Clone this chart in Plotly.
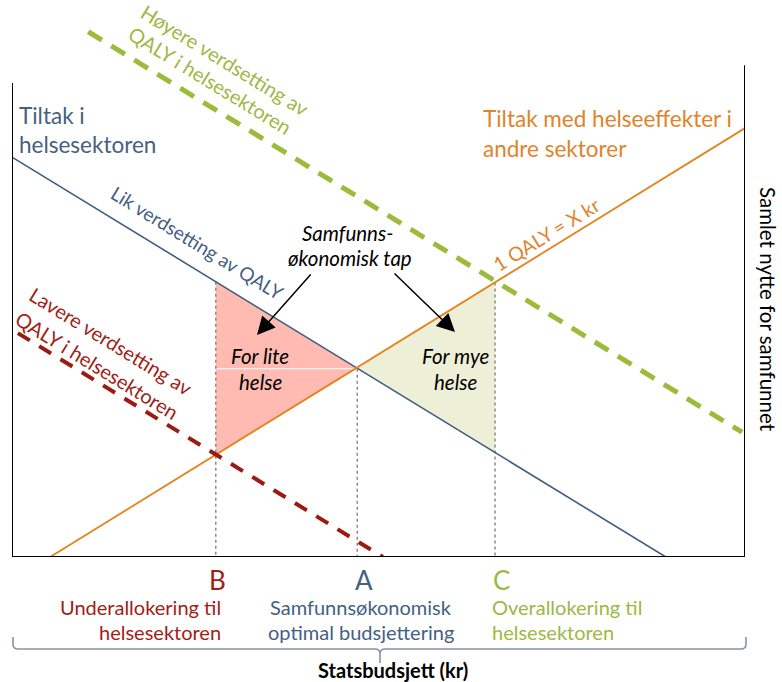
import plotly.graph_objects as go

W, H = 782, 682
ML, MR, MT, MB = 12, 37, 0, 125
PW, PH = W - ML - MR, H - MT - MB

# ---- data (budget 0-100 on x, total utility 0-100 on y) ----
health_x = [0.0, 89.2]        # Tiltak i helsesektoren
health_y = [71.8, 0.0]
other_x = [5.2, 100.0]        # Tiltak med helseeffekter i andre sektorer
other_y = [0.0, 77.0]
high_x = [10.4, 99.6]         # Høyere verdsetting av QALY i helsesektoren
high_y = [94.3, 22.4]
low_x = [0.8, 50.6]           # Lavere verdsetting av QALY i helsesektoren
low_y = [40.2, 0.0]
point_labels = ["B", "A", "C"]
point_x = [27.8, 47.1, 65.9]
point_top_y = [49.4, 33.8, 49.3]
loss_low_x = [27.8, 27.8, 47.1]   # For lite helse
loss_low_y = [49.4, 18.4, 33.8]
loss_high_x = [47.1, 65.9, 65.9]  # For mye helse
loss_high_y = [33.8, 49.3, 18.7]
left_axis_top = 85.1
right_axis_top = 88.3

BLUE = "#44617F"
ORANGE = "#E3841F"
ORANGE_T = "#E0832A"
GREEN = "#9BBB3B"
GREEN_T = "#9DB845"
RED = "#A11E17"
FONT = "Lato"


def P(x, y):
    """pixel position -> paper coords"""
    return (x - ML) / PW, (H - MB - y) / PH


fig = go.Figure()

fig.add_trace(go.Scatter(x=loss_low_x, y=loss_low_y, fill="toself", fillcolor="#FFBAB2",
                         line=dict(width=0), mode="lines", hoverinfo="skip"))
fig.add_trace(go.Scatter(x=loss_high_x, y=loss_high_y, fill="toself", fillcolor="#EDF0D7",
                         line=dict(width=0), mode="lines", hoverinfo="skip"))
# white artefact line across triangles
fig.add_trace(go.Scatter(x=[point_x[0], point_x[1]], y=[point_top_y[1], point_top_y[1]],
                         mode="lines", line=dict(color="white", width=1.2), hoverinfo="skip"))
for xv, yv in zip(point_x, point_top_y):
    fig.add_trace(go.Scatter(x=[xv, xv], y=[yv, 0], mode="lines",
                             line=dict(color="#8C8C8C", width=1.5, dash="dot"), hoverinfo="skip"))
fig.add_trace(go.Scatter(x=health_x, y=health_y, mode="lines",
                         line=dict(color="#3F5D80", width=1.6), hoverinfo="skip"))
fig.add_trace(go.Scatter(x=other_x, y=other_y, mode="lines",
                         line=dict(color=ORANGE, width=1.8), hoverinfo="skip"))
fig.add_trace(go.Scatter(x=high_x, y=high_y, mode="lines",
                         line=dict(color=GREEN, width=5, dash="16px,11px"), hoverinfo="skip"))
fig.add_trace(go.Scatter(x=low_x, y=low_y, mode="lines",
                         line=dict(color="#9C1A12", width=4, dash="14px,11px"), hoverinfo="skip"))

# axes frame
shapes = [
    dict(type="line", xref="x", yref="y", x0=0, y0=left_axis_top, x1=0, y1=0,
         line=dict(color="black", width=2)),
    dict(type="line", xref="x", yref="y", x0=0, y0=0, x1=100, y1=0,
         line=dict(color="black", width=2)),
    dict(type="line", xref="x", yref="y", x0=100, y0=0, x1=100, y1=right_axis_top,
         line=dict(color="black", width=2)),
]


def pt(x, y):
    a, b = P(x, y)
    return f"{a:.5f},{b:.5f}"


# bracket under the axis
path = ("M" + pt(13, 637) + " L" + pt(13, 644) + " Q" + pt(13, 649) + " " + pt(18, 649)
        + " L" + pt(375, 649) + " Q" + pt(380, 649) + " " + pt(380, 654) + " L" + pt(380, 663)
        + " L" + pt(380, 654) + " Q" + pt(380, 649) + " " + pt(385, 649)
        + " L" + pt(741, 649) + " Q" + pt(746, 649) + " " + pt(746, 644) + " L" + pt(746, 637))
shapes.append(dict(type="path", xref="paper", yref="paper", path=path,
                   line=dict(color="#8494A6", width=1.6)))

annotations = []


def txt(text, x, y, color, size=19, angle=0, xanchor="center", yanchor="middle"):
    a, b = P(x, y)
    annotations.append(dict(text=text, x=a, y=b, xref="paper", yref="paper", showarrow=False,
                            textangle=angle, xanchor=xanchor, yanchor=yanchor,
                            font=dict(family=FONT, size=size, color=color)))


def arrow(hx, hy, tx, ty):
    a, b = P(hx, hy)
    annotations.append(dict(text="", x=a, y=b, xref="paper", yref="paper", showarrow=True,
                            ax=tx - hx, ay=ty - hy, arrowhead=2, arrowsize=2.4,
                            arrowwidth=1.5, arrowcolor="black", standoff=0))


ANG = 31.5
txt("Høyere verdsetting av", 225, 60, GREEN_T, size=20, angle=ANG)
txt("QALY i helsesektoren", 210, 80, GREEN_T, size=20, angle=ANG)
txt("Tiltak i", 17, 115, BLUE, size=22.5, xanchor="left")
txt("helsesektoren", 17, 145, BLUE, size=22.5, xanchor="left")
txt("Tiltak med helseeffekter i", 481, 118, ORANGE_T, size=22.5, xanchor="left")
txt("andre sektorer", 481, 148, ORANGE_T, size=22.5, xanchor="left")
txt("Lik verdsetting av QALY", 197, 242, BLUE, size=19, angle=ANG)
txt("1 QALY = X kr", 546, 234, ORANGE_T, size=19.5, angle=-ANG)
txt("Lavere verdsetting av", 111, 341, RED, size=20, angle=ANG)
txt("QALY i helsesektoren", 97, 365, RED, size=20, angle=ANG)
txt("<i>Samfunns-</i>", 347, 233, "black", size=20.5)
txt("<i>økonomisk tap</i>", 350, 258, "black", size=20.5)
txt("<i>For lite</i>", 260, 356, "black", size=20.5)
txt("<i>helse</i>", 260, 382, "black", size=20.5)
txt("<i>For mye</i>", 456, 356, "black", size=20.5)
txt("<i>helse</i>", 456, 382, "black", size=20.5)
arrow(257, 335, 312, 273)
arrow(455, 332, 393, 272)

# point labels on budget axis
label_colors = [RED, BLUE, GREEN]
label_dx = [2, 7, 6]
for lab, xv, col, dx in zip(point_labels, point_x, label_colors, label_dx):
    xp = ML + xv / 100 * PW + dx
    txt(lab, xp, 580, col, size=26)

txt("Underallokering til", 223, 607, RED, size=20, xanchor="right")
txt("helsesektoren", 223, 632, RED, size=20, xanchor="right")
txt("Samfunnsøkonomisk", 361, 607, BLUE, size=20)
txt("optimal budsjettering", 361, 632, BLUE, size=20)
txt("Overallokering til", 490, 607, GREEN_T, size=20, xanchor="left")
txt("helsesektoren", 490, 632, GREEN_T, size=20, xanchor="left")
txt("<b>Statsbudsjett (kr)</b>", 393, 670, "black", size=20)
txt("Samlet nytte for samfunnet", 768, 309, "black", size=20.5, angle=90)

fig.update_layout(
    width=W, height=H,
    margin=dict(l=ML, r=MR, t=MT, b=MB),
    plot_bgcolor="white", paper_bgcolor="white",
    showlegend=False,
    xaxis=dict(range=[0, 100], visible=False, fixedrange=True),
    yaxis=dict(range=[0, 100], visible=False, fixedrange=True),
    shapes=shapes, annotations=annotations,
)

fig.write_html("out.html", config={"displayModeBar": False},
               post_script="document.body.style.margin='0';document.body.style.padding='0';")
